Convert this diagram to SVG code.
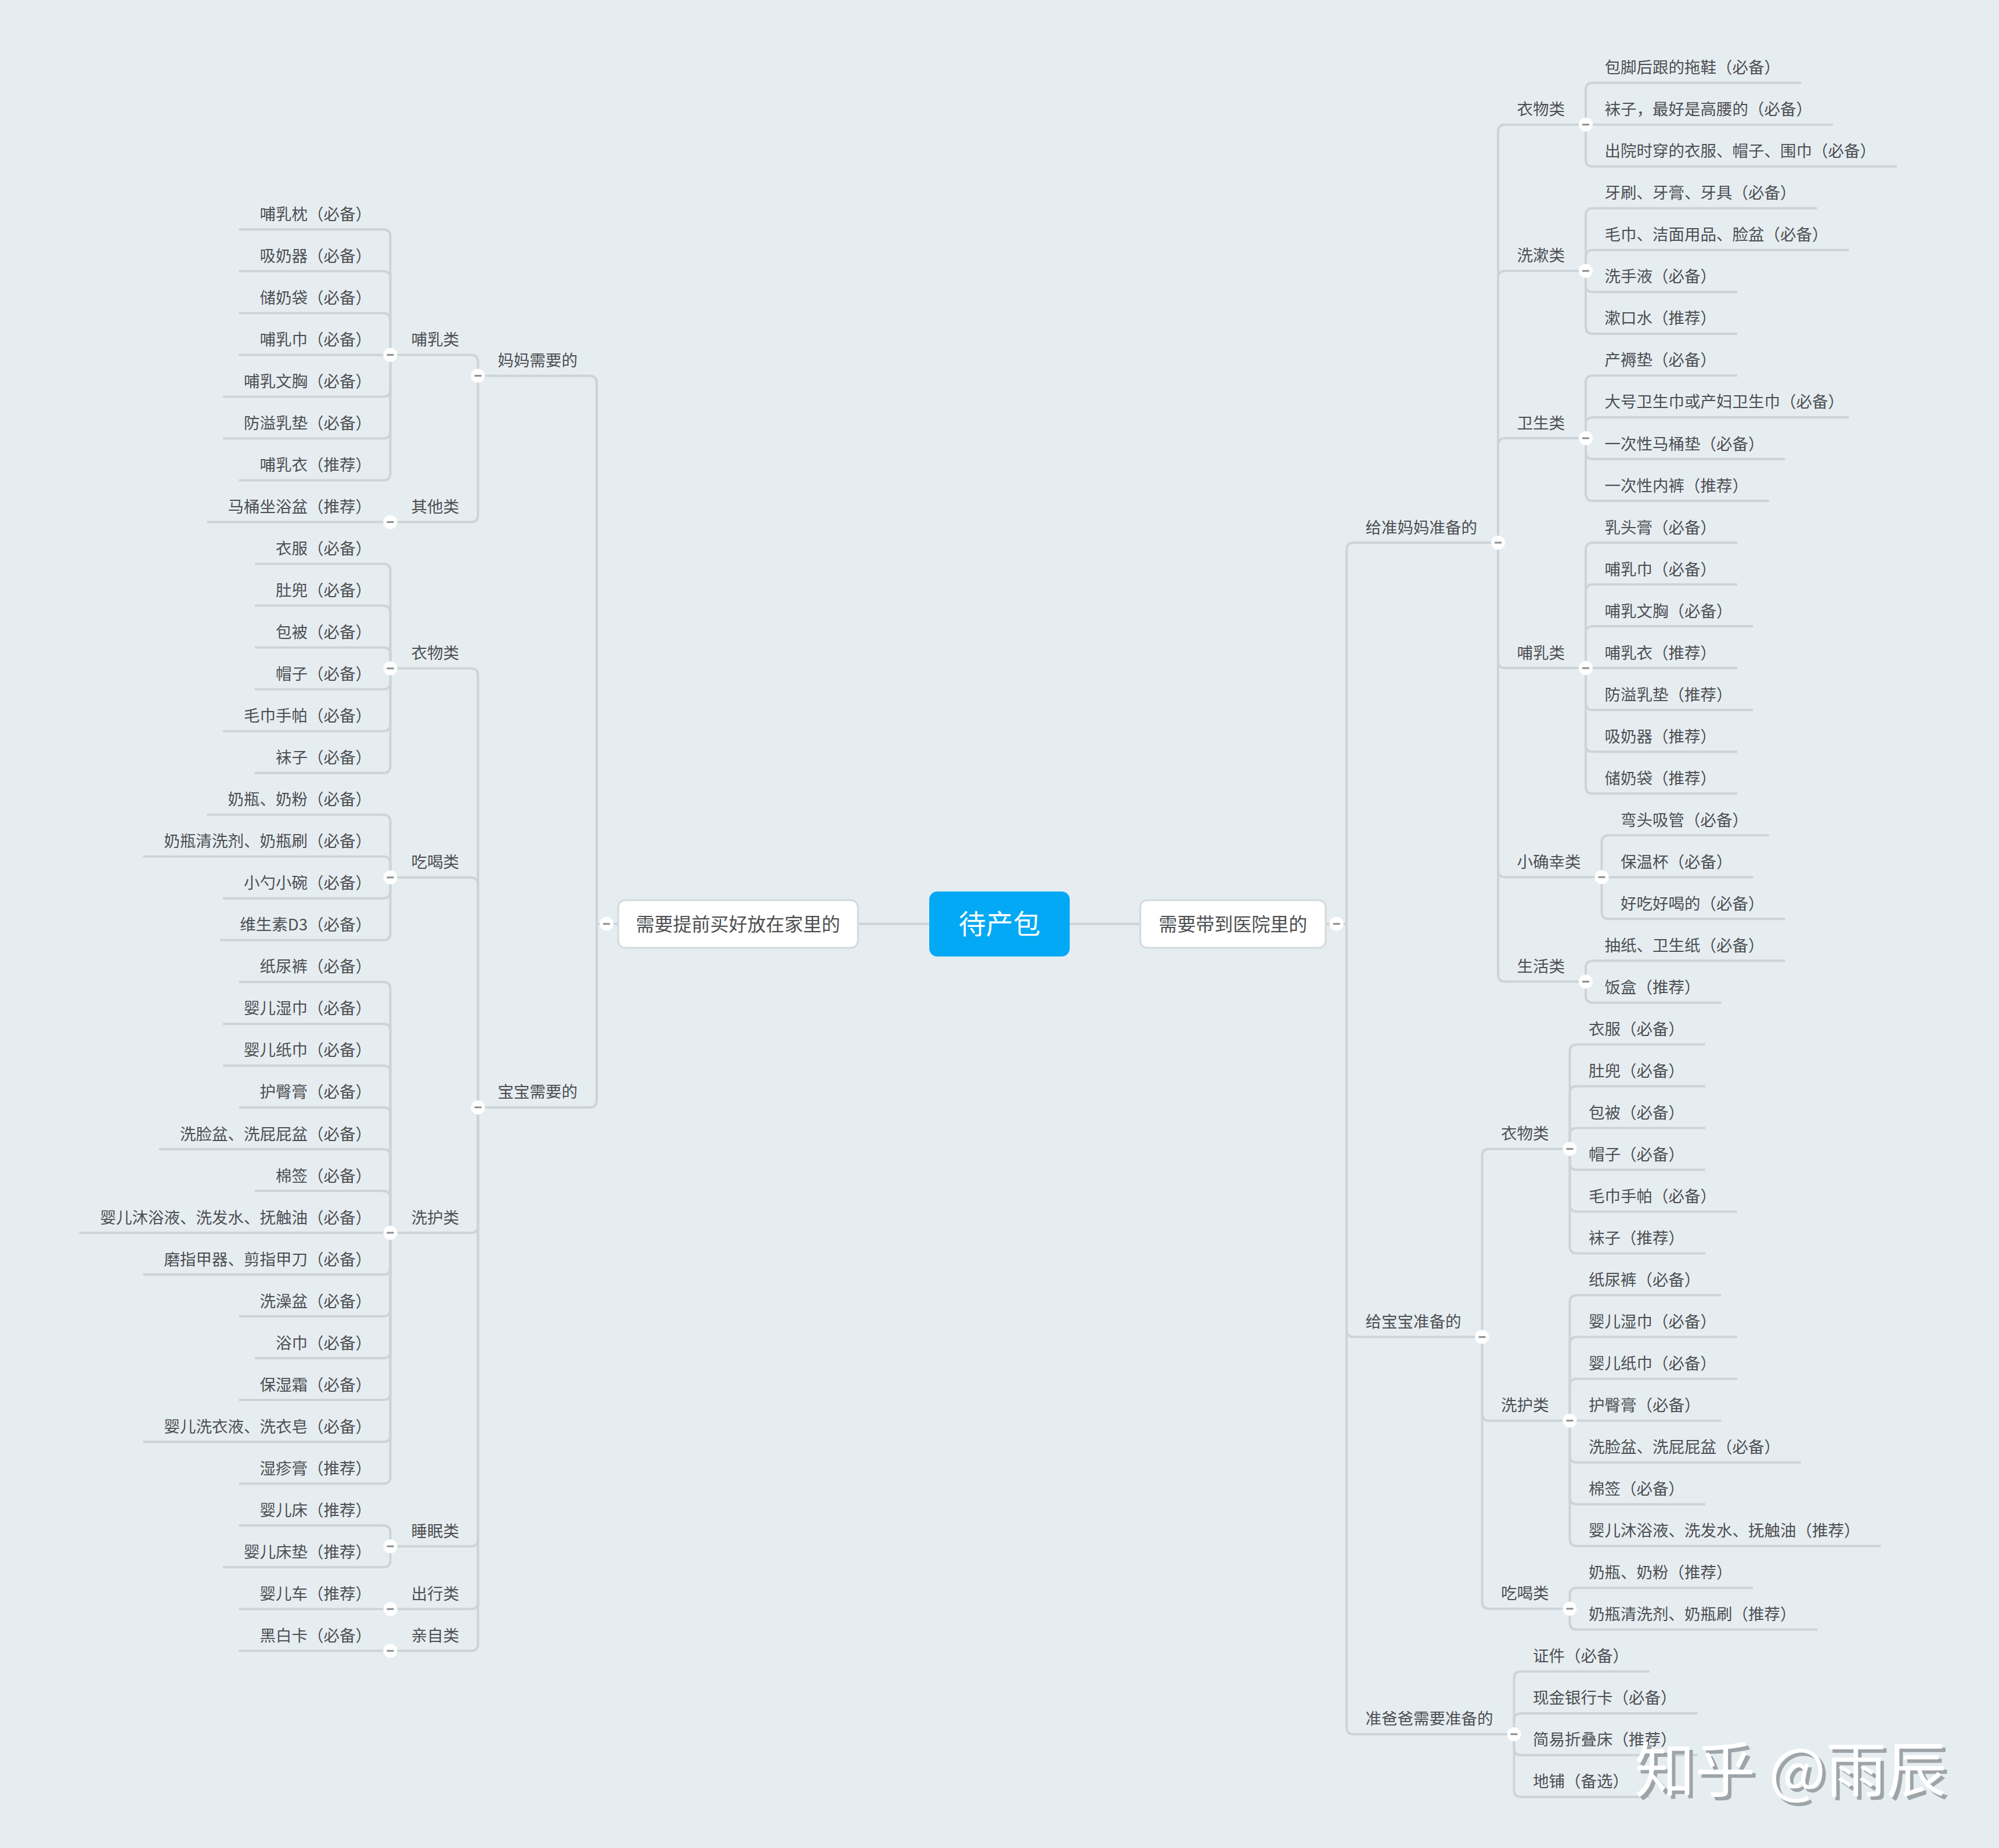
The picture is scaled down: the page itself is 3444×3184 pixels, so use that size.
<svg xmlns="http://www.w3.org/2000/svg" xmlns:xlink="http://www.w3.org/1999/xlink" width="3444" height="3184" viewBox="0 0 3444 3184">
<style>
.t{font-family:"Noto Sans CJK SC","Noto Sans",sans-serif;font-size:27.5px;fill:#4D4F52}
.e{text-anchor:end}
.c{fill:none;stroke:#CDD4D9;stroke-width:4}
.box{fill:#FFFFFF;stroke:#D3D9DD;stroke-width:3}
.b1{font-family:"Noto Sans CJK SC","Noto Sans",sans-serif;font-size:32px;fill:#4D4F52;text-anchor:middle}
.wm{font-family:"Noto Sans CJK SC","Noto Sans",sans-serif;font-size:104px}
</style>
<defs>
<g id="dot"><circle r="12" fill="#FFFFFF"/><rect x="-6" y="-1.5" width="12" height="3" fill="#8C8C8C"/></g>
</defs>
<rect width="3444" height="3184" fill="#E6EDF1"/>
<g id="connectors" class="c">
<path d="M1601,1591.8 H1478"/>
<path d="M1843,1591.8 H1964.5"/>
<path d="M1065,1591.8 H1028"/>
<path d="M2284,1591.8 H2320"/>
<path d="M1028,1591.8 V659.4 Q1028,647.4 1016,647.4 H823.5"/>
<path d="M1028,1591.8 V1895.9 Q1028,1907.9 1016,1907.9 H823.5"/>
<path d="M823.5,647.4 V623.4 Q823.5,611.4 811.5,611.4 H672.5"/>
<path d="M823.5,647.4 V887.5 Q823.5,899.5 811.5,899.5 H672.5"/>
<path d="M823.5,1907.9 V1163.6 Q823.5,1151.6 811.5,1151.6 H672.5"/>
<path d="M823.5,1907.9 V1523.8 Q823.5,1511.8 811.5,1511.8 H672.5"/>
<path d="M823.5,1907.9 V2112 Q823.5,2124 811.5,2124 H672.5"/>
<path d="M823.5,1907.9 V2652.2 Q823.5,2664.2 811.5,2664.2 H672.5"/>
<path d="M823.5,1907.9 V2760.3 Q823.5,2772.3 811.5,2772.3 H672.5"/>
<path d="M823.5,1907.9 V2832.3 Q823.5,2844.3 811.5,2844.3 H672.5"/>
<path d="M672.5,611.4 V407.3 Q672.5,395.3 660.5,395.3 H411.5"/>
<path d="M672.5,611.4 V479.3 Q672.5,467.3 660.5,467.3 H411.5"/>
<path d="M672.5,611.4 V551.4 Q672.5,539.4 660.5,539.4 H411.5"/>
<path d="M672.5,611.4 H411.5"/>
<path d="M672.5,611.4 V671.4 Q672.5,683.4 660.5,683.4 H384"/>
<path d="M672.5,611.4 V743.5 Q672.5,755.5 660.5,755.5 H384"/>
<path d="M672.5,611.4 V815.5 Q672.5,827.5 660.5,827.5 H411.5"/>
<path d="M672.5,899.5 H356.5"/>
<path d="M672.5,1151.6 V983.5 Q672.5,971.5 660.5,971.5 H439"/>
<path d="M672.5,1151.6 V1055.6 Q672.5,1043.6 660.5,1043.6 H439"/>
<path d="M672.5,1151.6 V1127.6 Q672.5,1115.6 660.5,1115.6 H439"/>
<path d="M672.5,1151.6 V1175.6 Q672.5,1187.6 660.5,1187.6 H439"/>
<path d="M672.5,1151.6 V1247.7 Q672.5,1259.7 660.5,1259.7 H384"/>
<path d="M672.5,1151.6 V1319.7 Q672.5,1331.7 660.5,1331.7 H439"/>
<path d="M672.5,1511.8 V1415.7 Q672.5,1403.7 660.5,1403.7 H356.5"/>
<path d="M672.5,1511.8 V1487.8 Q672.5,1475.8 660.5,1475.8 H246.5"/>
<path d="M672.5,1511.8 V1535.8 Q672.5,1547.8 660.5,1547.8 H384"/>
<path d="M672.5,1511.8 V1607.8 Q672.5,1619.8 660.5,1619.8 H379"/>
<path d="M672.5,2124 V1703.8 Q672.5,1691.8 660.5,1691.8 H411.5"/>
<path d="M672.5,2124 V1775.9 Q672.5,1763.9 660.5,1763.9 H384"/>
<path d="M672.5,2124 V1847.9 Q672.5,1835.9 660.5,1835.9 H384"/>
<path d="M672.5,2124 V1919.9 Q672.5,1907.9 660.5,1907.9 H411.5"/>
<path d="M672.5,2124 V1992 Q672.5,1980 660.5,1980 H274"/>
<path d="M672.5,2124 V2064 Q672.5,2052 660.5,2052 H439"/>
<path d="M672.5,2124 H136.5"/>
<path d="M672.5,2124 V2184.1 Q672.5,2196.1 660.5,2196.1 H246.5"/>
<path d="M672.5,2124 V2256.1 Q672.5,2268.1 660.5,2268.1 H411.5"/>
<path d="M672.5,2124 V2328.1 Q672.5,2340.1 660.5,2340.1 H439"/>
<path d="M672.5,2124 V2400.1 Q672.5,2412.1 660.5,2412.1 H411.5"/>
<path d="M672.5,2124 V2472.2 Q672.5,2484.2 660.5,2484.2 H246.5"/>
<path d="M672.5,2124 V2544.2 Q672.5,2556.2 660.5,2556.2 H411.5"/>
<path d="M672.5,2664.2 V2640.2 Q672.5,2628.2 660.5,2628.2 H411.5"/>
<path d="M672.5,2664.2 V2688.3 Q672.5,2700.3 660.5,2700.3 H384"/>
<path d="M672.5,2772.3 H411.5"/>
<path d="M672.5,2844.3 H411.5"/>
<path d="M2320,1591.8 V947 Q2320,935 2332,935 H2581"/>
<path d="M2320,1591.8 V2291.6 Q2320,2303.6 2332,2303.6 H2553.5"/>
<path d="M2320,1591.8 V2975.9 Q2320,2987.9 2332,2987.9 H2608.5"/>
<path d="M2581,935 V226.7 Q2581,214.7 2593,214.7 H2732"/>
<path d="M2581,935 V478.8 Q2581,466.8 2593,466.8 H2732"/>
<path d="M2581,935 V767 Q2581,755 2593,755 H2732"/>
<path d="M2581,935 V1139.1 Q2581,1151.1 2593,1151.1 H2732"/>
<path d="M2581,935 V1499.3 Q2581,1511.3 2593,1511.3 H2759.5"/>
<path d="M2581,935 V1679.3 Q2581,1691.3 2593,1691.3 H2732"/>
<path d="M2553.5,2303.6 V1991.5 Q2553.5,1979.5 2565.5,1979.5 H2704.5"/>
<path d="M2553.5,2303.6 V2435.7 Q2553.5,2447.7 2565.5,2447.7 H2704.5"/>
<path d="M2553.5,2303.6 V2759.8 Q2553.5,2771.8 2565.5,2771.8 H2704.5"/>
<path d="M2732,214.7 V154.7 Q2732,142.7 2744,142.7 H3103"/>
<path d="M2732,214.7 H3158"/>
<path d="M2732,214.7 V274.8 Q2732,286.8 2744,286.8 H3268"/>
<path d="M2732,466.8 V370.8 Q2732,358.8 2744,358.8 H3130.5"/>
<path d="M2732,466.8 V442.8 Q2732,430.8 2744,430.8 H3185.5"/>
<path d="M2732,466.8 V490.9 Q2732,502.9 2744,502.9 H2993"/>
<path d="M2732,466.8 V562.9 Q2732,574.9 2744,574.9 H2993"/>
<path d="M2732,755 V658.9 Q2732,646.9 2744,646.9 H2993"/>
<path d="M2732,755 V730.9 Q2732,718.9 2744,718.9 H3185.5"/>
<path d="M2732,755 V779 Q2732,791 2744,791 H3075.5"/>
<path d="M2732,755 V851 Q2732,863 2744,863 H3048"/>
<path d="M2732,1151.1 V947 Q2732,935 2744,935 H2993"/>
<path d="M2732,1151.1 V1019.1 Q2732,1007.1 2744,1007.1 H2993"/>
<path d="M2732,1151.1 V1091.1 Q2732,1079.1 2744,1079.1 H3020.5"/>
<path d="M2732,1151.1 H2993"/>
<path d="M2732,1151.1 V1211.2 Q2732,1223.2 2744,1223.2 H3020.5"/>
<path d="M2732,1151.1 V1283.2 Q2732,1295.2 2744,1295.2 H2993"/>
<path d="M2732,1151.1 V1355.2 Q2732,1367.2 2744,1367.2 H2993"/>
<path d="M2759.5,1511.3 V1451.2 Q2759.5,1439.2 2771.5,1439.2 H3048"/>
<path d="M2759.5,1511.3 H3020.5"/>
<path d="M2759.5,1511.3 V1571.3 Q2759.5,1583.3 2771.5,1583.3 H3075.5"/>
<path d="M2732,1691.3 V1667.3 Q2732,1655.3 2744,1655.3 H3075.5"/>
<path d="M2732,1691.3 V1715.4 Q2732,1727.4 2744,1727.4 H2965.5"/>
<path d="M2704.5,1979.5 V1811.4 Q2704.5,1799.4 2716.5,1799.4 H2938"/>
<path d="M2704.5,1979.5 V1883.4 Q2704.5,1871.4 2716.5,1871.4 H2938"/>
<path d="M2704.5,1979.5 V1955.4 Q2704.5,1943.4 2716.5,1943.4 H2938"/>
<path d="M2704.5,1979.5 V2003.5 Q2704.5,2015.5 2716.5,2015.5 H2938"/>
<path d="M2704.5,1979.5 V2075.5 Q2704.5,2087.5 2716.5,2087.5 H2993"/>
<path d="M2704.5,1979.5 V2147.6 Q2704.5,2159.6 2716.5,2159.6 H2938"/>
<path d="M2704.5,2447.7 V2243.6 Q2704.5,2231.6 2716.5,2231.6 H2965.5"/>
<path d="M2704.5,2447.7 V2315.6 Q2704.5,2303.6 2716.5,2303.6 H2993"/>
<path d="M2704.5,2447.7 V2387.6 Q2704.5,2375.6 2716.5,2375.6 H2993"/>
<path d="M2704.5,2447.7 H2965.5"/>
<path d="M2704.5,2447.7 V2507.7 Q2704.5,2519.7 2716.5,2519.7 H3103"/>
<path d="M2704.5,2447.7 V2579.7 Q2704.5,2591.7 2716.5,2591.7 H2938"/>
<path d="M2704.5,2447.7 V2651.8 Q2704.5,2663.8 2716.5,2663.8 H3240.5"/>
<path d="M2704.5,2771.8 V2747.8 Q2704.5,2735.8 2716.5,2735.8 H3020.5"/>
<path d="M2704.5,2771.8 V2795.8 Q2704.5,2807.8 2716.5,2807.8 H3131"/>
<path d="M2608.5,2987.9 V2891.8 Q2608.5,2879.8 2620.5,2879.8 H2842"/>
<path d="M2608.5,2987.9 V2963.9 Q2608.5,2951.9 2620.5,2951.9 H2924.5"/>
<path d="M2608.5,2987.9 V3011.9 Q2608.5,3023.9 2620.5,3023.9 H2924.5"/>
<path d="M2608.5,2987.9 V3083.9 Q2608.5,3095.9 2620.5,3095.9 H2842"/>
</g>
<g id="dots">
<use xlink:href="#dot" x="1045" y="1591.8"/>
<use xlink:href="#dot" x="823.5" y="647.4"/>
<use xlink:href="#dot" x="823.5" y="1907.9"/>
<use xlink:href="#dot" x="672.5" y="611.4"/>
<use xlink:href="#dot" x="672.5" y="899.5"/>
<use xlink:href="#dot" x="672.5" y="1151.6"/>
<use xlink:href="#dot" x="672.5" y="1511.8"/>
<use xlink:href="#dot" x="672.5" y="2124"/>
<use xlink:href="#dot" x="672.5" y="2664.2"/>
<use xlink:href="#dot" x="672.5" y="2772.3"/>
<use xlink:href="#dot" x="672.5" y="2844.3"/>
<use xlink:href="#dot" x="2302.7" y="1591.8"/>
<use xlink:href="#dot" x="2581" y="935"/>
<use xlink:href="#dot" x="2553.5" y="2303.6"/>
<use xlink:href="#dot" x="2608.5" y="2987.9"/>
<use xlink:href="#dot" x="2732" y="214.7"/>
<use xlink:href="#dot" x="2732" y="466.8"/>
<use xlink:href="#dot" x="2732" y="755"/>
<use xlink:href="#dot" x="2732" y="1151.1"/>
<use xlink:href="#dot" x="2759.5" y="1511.3"/>
<use xlink:href="#dot" x="2732" y="1691.3"/>
<use xlink:href="#dot" x="2704.5" y="1979.5"/>
<use xlink:href="#dot" x="2704.5" y="2447.7"/>
<use xlink:href="#dot" x="2704.5" y="2771.8"/>
</g>
<g id="root"><rect x="1601" y="1536" width="242" height="112" rx="14" fill="#03A9F4"/><text x="1722" y="1609" font-family="Noto Sans CJK SC, Noto Sans, sans-serif" font-size="47" fill="#FFFFFF" text-anchor="middle">待产包</text></g>
<g id="n-home"><rect class="box" x="1065" y="1551" width="413" height="82" rx="12"/><text class="b1" x="1271.5" y="1603.5">需要提前买好放在家里的</text></g>
<g id="n-hospital"><rect class="box" x="1964.5" y="1551" width="319.5" height="82" rx="12"/><text class="b1" x="2124.2" y="1603.5">需要带到医院里的</text></g>
<g id="left-nodes" class="t" transform="translate(0,2)">
<g id="n-mama"><text class="t e" x="995" y="628.9">妈妈需要的</text></g>
<g id="n-baobao"><text class="t e" x="995" y="1889.4">宝宝需要的</text></g>
<g id="n-l-buru"><text class="t e" x="791" y="592.9">哺乳类</text></g>
<g id="n-l-qita"><text class="t e" x="791" y="881">其他类</text></g>
<g id="n-l-yiwu"><text class="t e" x="791" y="1133.1">衣物类</text></g>
<g id="n-l-chihe"><text class="t e" x="791" y="1493.3">吃喝类</text></g>
<g id="n-l-xihu"><text class="t e" x="791" y="2105.5">洗护类</text></g>
<g id="n-l-shuimian"><text class="t e" x="791" y="2645.7">睡眠类</text></g>
<g id="n-l-chuxing"><text class="t e" x="791" y="2753.8">出行类</text></g>
<g id="n-l-qinzi"><text class="t e" x="791" y="2825.8">亲自类</text></g>
<g id="l0"><text class="t e" x="640" y="376.8">哺乳枕（必备）</text></g>
<g id="l1"><text class="t e" x="640" y="448.8">吸奶器（必备）</text></g>
<g id="l2"><text class="t e" x="640" y="520.9">储奶袋（必备）</text></g>
<g id="l3"><text class="t e" x="640" y="592.9">哺乳巾（必备）</text></g>
<g id="l4"><text class="t e" x="640" y="664.9">哺乳文胸（必备）</text></g>
<g id="l5"><text class="t e" x="640" y="737">防溢乳垫（必备）</text></g>
<g id="l6"><text class="t e" x="640" y="809">哺乳衣（推荐）</text></g>
<g id="l7"><text class="t e" x="640" y="881">马桶坐浴盆（推荐）</text></g>
<g id="l8"><text class="t e" x="640" y="953">衣服（必备）</text></g>
<g id="l9"><text class="t e" x="640" y="1025.1">肚兜（必备）</text></g>
<g id="l10"><text class="t e" x="640" y="1097.1">包被（必备）</text></g>
<g id="l11"><text class="t e" x="640" y="1169.1">帽子（必备）</text></g>
<g id="l12"><text class="t e" x="640" y="1241.2">毛巾手帕（必备）</text></g>
<g id="l13"><text class="t e" x="640" y="1313.2">袜子（必备）</text></g>
<g id="l14"><text class="t e" x="640" y="1385.2">奶瓶、奶粉（必备）</text></g>
<g id="l15"><text class="t e" x="640" y="1457.3">奶瓶清洗剂、奶瓶刷（必备）</text></g>
<g id="l16"><text class="t e" x="640" y="1529.3">小勺小碗（必备）</text></g>
<g id="l17"><text class="t e" x="640" y="1601.3">维生素D3（必备）</text></g>
<g id="l18"><text class="t e" x="640" y="1673.3">纸尿裤（必备）</text></g>
<g id="l19"><text class="t e" x="640" y="1745.4">婴儿湿巾（必备）</text></g>
<g id="l20"><text class="t e" x="640" y="1817.4">婴儿纸巾（必备）</text></g>
<g id="l21"><text class="t e" x="640" y="1889.4">护臀膏（必备）</text></g>
<g id="l22"><text class="t e" x="640" y="1961.5">洗脸盆、洗屁屁盆（必备）</text></g>
<g id="l23"><text class="t e" x="640" y="2033.5">棉签（必备）</text></g>
<g id="l24"><text class="t e" x="640" y="2105.5">婴儿沐浴液、洗发水、抚触油（必备）</text></g>
<g id="l25"><text class="t e" x="640" y="2177.6">磨指甲器、剪指甲刀（必备）</text></g>
<g id="l26"><text class="t e" x="640" y="2249.6">洗澡盆（必备）</text></g>
<g id="l27"><text class="t e" x="640" y="2321.6">浴巾（必备）</text></g>
<g id="l28"><text class="t e" x="640" y="2393.6">保湿霜（必备）</text></g>
<g id="l29"><text class="t e" x="640" y="2465.7">婴儿洗衣液、洗衣皂（必备）</text></g>
<g id="l30"><text class="t e" x="640" y="2537.7">湿疹膏（推荐）</text></g>
<g id="l31"><text class="t e" x="640" y="2609.7">婴儿床（推荐）</text></g>
<g id="l32"><text class="t e" x="640" y="2681.8">婴儿床垫（推荐）</text></g>
<g id="l33"><text class="t e" x="640" y="2753.8">婴儿车（推荐）</text></g>
<g id="l34"><text class="t e" x="640" y="2825.8">黑白卡（必备）</text></g>
</g>
<g id="right-nodes" class="t" transform="translate(0,2)">
<g id="n-zhunmama"><text class="t" x="2352.5" y="916.5">给准妈妈准备的</text></g>
<g id="n-geibaobao"><text class="t" x="2352.5" y="2285.1">给宝宝准备的</text></g>
<g id="n-zhunbaba"><text class="t" x="2352.5" y="2969.4">准爸爸需要准备的</text></g>
<g id="n-r-yiwu"><text class="t" x="2613.5" y="196.2">衣物类</text></g>
<g id="n-r-xishu"><text class="t" x="2613.5" y="448.3">洗漱类</text></g>
<g id="n-r-weisheng"><text class="t" x="2613.5" y="736.5">卫生类</text></g>
<g id="n-r-buru"><text class="t" x="2613.5" y="1132.6">哺乳类</text></g>
<g id="n-r-xiaoquexing"><text class="t" x="2613.5" y="1492.8">小确幸类</text></g>
<g id="n-r-shenghuo"><text class="t" x="2613.5" y="1672.8">生活类</text></g>
<g id="n-r-byiwu"><text class="t" x="2586" y="1961">衣物类</text></g>
<g id="n-r-bxihu"><text class="t" x="2586" y="2429.2">洗护类</text></g>
<g id="n-r-bchihe"><text class="t" x="2586" y="2753.3">吃喝类</text></g>
<g id="r0"><text class="t" x="2764.5" y="124.2">包脚后跟的拖鞋（必备）</text></g>
<g id="r1"><text class="t" x="2764.5" y="196.2">袜子，最好是高腰的（必备）</text></g>
<g id="r2"><text class="t" x="2764.5" y="268.3">出院时穿的衣服、帽子、围巾（必备）</text></g>
<g id="r3"><text class="t" x="2764.5" y="340.3">牙刷、牙膏、牙具（必备）</text></g>
<g id="r4"><text class="t" x="2764.5" y="412.3">毛巾、洁面用品、脸盆（必备）</text></g>
<g id="r5"><text class="t" x="2764.5" y="484.4">洗手液（必备）</text></g>
<g id="r6"><text class="t" x="2764.5" y="556.4">漱口水（推荐）</text></g>
<g id="r7"><text class="t" x="2764.5" y="628.4">产褥垫（必备）</text></g>
<g id="r8"><text class="t" x="2764.5" y="700.4">大号卫生巾或产妇卫生巾（必备）</text></g>
<g id="r9"><text class="t" x="2764.5" y="772.5">一次性马桶垫（必备）</text></g>
<g id="r10"><text class="t" x="2764.5" y="844.5">一次性内裤（推荐）</text></g>
<g id="r11"><text class="t" x="2764.5" y="916.5">乳头膏（必备）</text></g>
<g id="r12"><text class="t" x="2764.5" y="988.6">哺乳巾（必备）</text></g>
<g id="r13"><text class="t" x="2764.5" y="1060.6">哺乳文胸（必备）</text></g>
<g id="r14"><text class="t" x="2764.5" y="1132.6">哺乳衣（推荐）</text></g>
<g id="r15"><text class="t" x="2764.5" y="1204.7">防溢乳垫（推荐）</text></g>
<g id="r16"><text class="t" x="2764.5" y="1276.7">吸奶器（推荐）</text></g>
<g id="r17"><text class="t" x="2764.5" y="1348.7">储奶袋（推荐）</text></g>
<g id="r18"><text class="t" x="2792" y="1420.7">弯头吸管（必备）</text></g>
<g id="r19"><text class="t" x="2792" y="1492.8">保温杯（必备）</text></g>
<g id="r20"><text class="t" x="2792" y="1564.8">好吃好喝的（必备）</text></g>
<g id="r21"><text class="t" x="2764.5" y="1636.8">抽纸、卫生纸（必备）</text></g>
<g id="r22"><text class="t" x="2764.5" y="1708.9">饭盒（推荐）</text></g>
<g id="r23"><text class="t" x="2737" y="1780.9">衣服（必备）</text></g>
<g id="r24"><text class="t" x="2737" y="1852.9">肚兜（必备）</text></g>
<g id="r25"><text class="t" x="2737" y="1924.9">包被（必备）</text></g>
<g id="r26"><text class="t" x="2737" y="1997">帽子（必备）</text></g>
<g id="r27"><text class="t" x="2737" y="2069">毛巾手帕（必备）</text></g>
<g id="r28"><text class="t" x="2737" y="2141.1">袜子（推荐）</text></g>
<g id="r29"><text class="t" x="2737" y="2213.1">纸尿裤（必备）</text></g>
<g id="r30"><text class="t" x="2737" y="2285.1">婴儿湿巾（必备）</text></g>
<g id="r31"><text class="t" x="2737" y="2357.1">婴儿纸巾（必备）</text></g>
<g id="r32"><text class="t" x="2737" y="2429.2">护臀膏（必备）</text></g>
<g id="r33"><text class="t" x="2737" y="2501.2">洗脸盆、洗屁屁盆（必备）</text></g>
<g id="r34"><text class="t" x="2737" y="2573.2">棉签（必备）</text></g>
<g id="r35"><text class="t" x="2737" y="2645.3">婴儿沐浴液、洗发水、抚触油（推荐）</text></g>
<g id="r36"><text class="t" x="2737" y="2717.3">奶瓶、奶粉（推荐）</text></g>
<g id="r37"><text class="t" x="2737" y="2789.3">奶瓶清洗剂、奶瓶刷（推荐）</text></g>
<g id="r38"><text class="t" x="2641" y="2861.3">证件（必备）</text></g>
<g id="r39"><text class="t" x="2641" y="2933.4">现金银行卡（必备）</text></g>
<g id="r40"><text class="t" x="2641" y="3005.4">简易折叠床（推荐）</text></g>
<g id="r41"><text class="t" x="2641" y="3077.4">地铺（备选）</text></g>
</g>
<g id="watermark">
<text class="wm" x="2822" y="3094" fill="#9EA4A8">知乎 @雨辰</text>
<text class="wm" x="2816" y="3088" fill="#FFFFFF">知乎 @雨辰</text>
</g>
</svg>
